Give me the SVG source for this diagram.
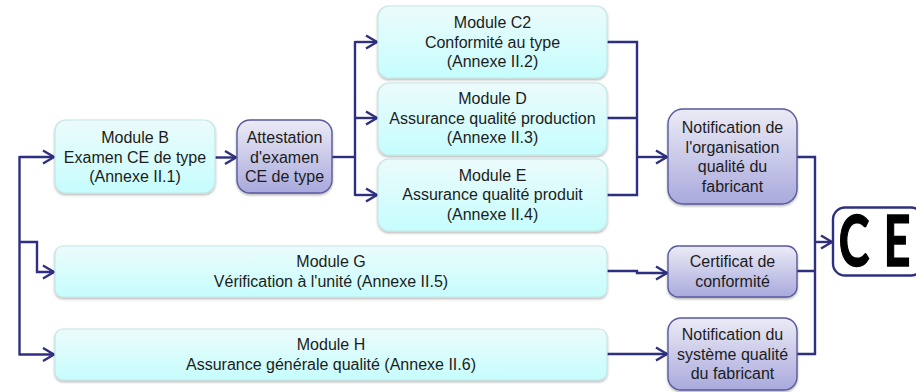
<svg xmlns="http://www.w3.org/2000/svg" width="916" height="392" viewBox="0 0 916 392">
<style>
text{font-family:"Liberation Sans",Arial,sans-serif;font-size:16px;fill:#1c1c1c;text-anchor:middle}
.m{fill:url(#lt);stroke:#c4e6e6;stroke-width:1.2;filter:url(#sh)}
.p{fill:url(#pu);stroke:#5a5a9c;stroke-width:1.4;filter:url(#sh)}
.c{fill:none;stroke:#2f2f7f;stroke-width:2.4}
.a{marker-end:url(#ar)}
.ce{font-family:Lato,"Liberation Sans",sans-serif;font-size:70px;font-weight:700;fill:#000;stroke:#000;stroke-width:1.6px}
</style>
<defs>
<linearGradient id="lt" x1="0" y1="0" x2="0" y2="1"><stop offset="0" stop-color="#ecfbfb"/><stop offset="1" stop-color="#c6fdfd"/></linearGradient>
<linearGradient id="pu" x1="0" y1="0" x2="0" y2="1"><stop offset="0" stop-color="#ebebf6"/><stop offset="1" stop-color="#a9a9dd"/></linearGradient>
<filter id="sh" x="-5%" y="-10%" width="110%" height="125%"><feDropShadow dx="0" dy="1.5" stdDeviation="1.2" flood-color="#000" flood-opacity=".3"/></filter>
<marker id="ar" markerUnits="userSpaceOnUse" markerWidth="16" markerHeight="16" refX="13" refY="8" orient="auto"><path d="M2 1.500L13 8L2 14.500" fill="none" stroke="#2f2f7f" stroke-width="2.4"/></marker>
</defs>
<g id="connectors">
<path class="c a" d="M19.500 157H54"/>
<path class="c" d="M19.500 156V355.500"/>
<path class="c a" d="M19.500 242H37V272H54"/>
<path class="c a" d="M19.500 354.500H54"/>
<path class="c a" d="M215 157.500H236"/>
<path class="c" d="M332 157H355"/>
<path class="c" d="M355 41V196"/>
<path class="c a" d="M355 42H377"/>
<path class="c a" d="M355 118H377"/>
<path class="c a" d="M355 195H377"/>
<path class="c" d="M607 42H637V195H607M607 118H637"/>
<path class="c a" d="M637 157H667"/>
<path class="c a" d="M607 271H637V273H667"/>
<path class="c a" d="M607 354H667"/>
<path class="c" d="M797 157H815V354H797M797 271H815"/>
<path class="c a" d="M815 242H832"/>
</g>
<g id="module-b"><rect class="m" x="55" y="120" width="160" height="73" rx="11"/><text x="135" y="143">Module B</text><text x="135" y="162.500">Examen CE de type</text><text x="135" y="182">(Annexe II.1)</text></g>
<g id="attestation"><rect class="p" x="237" y="120" width="95" height="73" rx="13"/><text x="284.500" y="143">Attestation</text><text x="284.500" y="162.500">d'examen</text><text x="284.500" y="182">CE de type</text></g>
<g id="module-c2"><rect class="m" x="378" y="6" width="229" height="72" rx="11"/><text x="492.500" y="28">Module C2</text><text x="492.500" y="48">Conformité au type</text><text x="492.500" y="67">(Annexe II.2)</text></g>
<g id="module-d"><rect class="m" x="378" y="83" width="229" height="72" rx="11"/><text x="492.500" y="104">Module D</text><text x="492.500" y="123.500">Assurance qualité production</text><text x="492.500" y="143">(Annexe II.3)</text></g>
<g id="module-e"><rect class="m" x="378" y="159" width="229" height="72" rx="11"/><text x="492.500" y="181">Module E</text><text x="492.500" y="200">Assurance qualité produit</text><text x="492.500" y="219.500">(Annexe II.4)</text></g>
<g id="module-g"><rect class="m" x="55" y="246" width="552" height="51" rx="8"/><text x="331" y="267">Module G</text><text x="331" y="286.500">Vérification à l'unité (Annexe II.5)</text></g>
<g id="module-h"><rect class="m" x="55" y="329" width="552" height="51" rx="8"/><text x="331" y="350">Module H</text><text x="331" y="369.500">Assurance générale qualité (Annexe II.6)</text></g>
<g id="notif-org"><rect class="p" x="668" y="109" width="129" height="95" rx="15"/><text x="732.500" y="133">Notification de</text><text x="732.500" y="152.500">l'organisation</text><text x="732.500" y="172">qualité du</text><text x="732.500" y="191.500">fabricant</text></g>
<g id="certificat"><rect class="p" x="668" y="246" width="129" height="51" rx="10"/><text x="732.500" y="267">Certificat de</text><text x="732.500" y="286.500">conformité</text></g>
<g id="notif-sys"><rect class="p" x="668" y="318" width="129" height="72" rx="13"/><text x="732.500" y="340">Notification du</text><text x="732.500" y="359.500">système qualité</text><text x="732.500" y="379">du fabricant</text></g>
<g id="ce-mark"><rect x="833" y="207.500" width="90" height="68" rx="12" fill="#fff" stroke="#2f2f7f" stroke-width="2.4"/>
<text class="ce" transform="translate(854 266) scale(.66 1)">C</text>
<text class="ce" transform="translate(897 266) scale(.66 1)">E</text></g>
</svg>
